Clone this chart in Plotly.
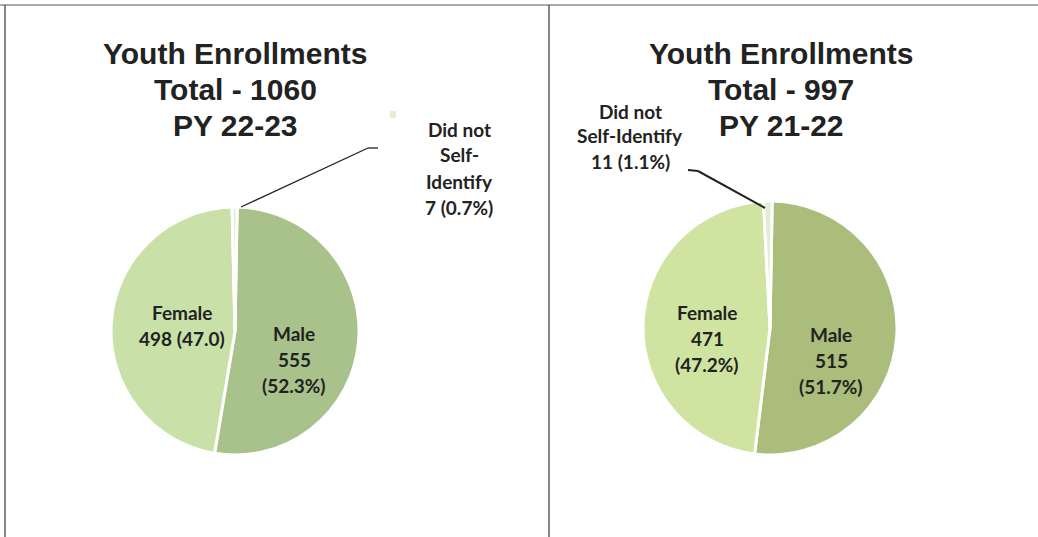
import plotly.graph_objects as go

W, H = 1038, 537

categories = ["Male", "Female", "Did not Self-Identify"]
values_2223 = [555, 498, 7]
values_2122 = [515, 471, 11]
pct_2223 = ["52.3%", "47.0", "0.7%"]
pct_2122 = ["51.7%", "47.2%", "1.1%"]
titles = [["Youth Enrollments", "Total - 1060", "PY 22-23"],
          ["Youth Enrollments", "Total - 997", "PY 21-22"]]

colors_2223 = ["#a9c18b", "#c9e0a9", "#e2eed3"]
colors_2122 = ["#aabd7a", "#d0e4a1", "#e2eed0"]


def px_dom(cx, cy, r):
    return dict(x=[(cx - r) / W, (cx + r) / W],
                y=[(H - cy - r) / H, (H - cy + r) / H])


fig = go.Figure()
fig.add_trace(go.Pie(labels=categories, values=values_2223, sort=False,
                     direction="clockwise", rotation=1, textinfo="none",
                     marker=dict(colors=colors_2223, line=dict(color="white", width=3)),
                     domain=px_dom(235, 331, 124), showlegend=False, hoverinfo="label+value"))
fig.add_trace(go.Pie(labels=categories, values=values_2122, sort=False,
                     direction="clockwise", rotation=1, textinfo="none",
                     marker=dict(colors=colors_2122, line=dict(color="white", width=3)),
                     domain=px_dom(770, 328, 127), showlegend=False, hoverinfo="label+value"))

ann = []
tfont = dict(family="Liberation Sans, Arial", size=30, color="#222222")


def title(lines, cx, ys):
    for t, y in zip(lines, ys):
        ann.append(dict(text="<b>" + t + "</b>", x=cx / W, y=1 - y / H, xref="paper", yref="paper",
                        xanchor="center", yanchor="middle", showarrow=False, font=tfont))


title(titles[0], 235, [53, 89, 125])
title(titles[1], 781, [53, 89, 125])

lfont = dict(family="Lato, Open Sans, sans-serif", size=19, color="#222222")


def lab(lines, cx, y0, dy=26):
    for i, t in enumerate(lines):
        ann.append(dict(text="<b>" + t + "</b>", x=cx / W, y=1 - (y0 + i * dy) / H,
                        xref="paper", yref="paper", xanchor="center", yanchor="middle",
                        showarrow=False, font=lfont))


# PY 22-23 labels
lab([categories[1], f"{values_2223[1]} ({pct_2223[1]})"], 182, 312)
lab([categories[0], f"{values_2223[0]}", f"({pct_2223[0]})"], 294, 333)
lab(["Did not", "Self-", "Identify", f"{values_2223[2]} ({pct_2223[2]})"], 459, 129)
# PY 21-22 labels
lab([categories[1], f"{values_2122[1]}", f"({pct_2122[1]})"], 707, 312)
lab([categories[0], f"{values_2122[0]}", f"({pct_2122[0]})"], 831, 334)
lab(["Did not", "Self-Identify", f"{values_2122[2]} ({pct_2122[2]})"], 630, 111, dy=25)

shapes = []


def line(x0, y0, x1, y1, color="#222222", width=1.3):
    shapes.append(dict(type="line", xref="paper", yref="paper",
                       x0=x0 / W, y0=1 - y0 / H, x1=x1 / W, y1=1 - y1 / H,
                       line=dict(color=color, width=width)))


# leader lines
line(241, 207, 368, 148)
line(368, 148, 378, 148)
line(688, 170, 698, 171, width=2)
line(698, 171, 765, 208, width=2)

# small legend-like square artifact
shapes.append(dict(type="rect", xref="paper", yref="paper",
                   x0=390 / W, y0=1 - 118 / H, x1=396 / W, y1=1 - 111 / H,
                   line=dict(width=0), fillcolor="#e4eed6"))

# panel borders
line(0, 5, 1038, 5, color="#555555", width=1)
line(5, 5, 5, 537, color="#444444", width=1.3)
line(549, 5, 549, 537, color="#444444", width=1.3)

fig.update_layout(width=W, height=H, margin=dict(l=0, r=0, t=0, b=0),
                  paper_bgcolor="white", plot_bgcolor="white",
                  annotations=ann, shapes=shapes)
fig.write_html("out.html", config={"displayModeBar": False},
               post_script="document.body.style.margin='0px';")
